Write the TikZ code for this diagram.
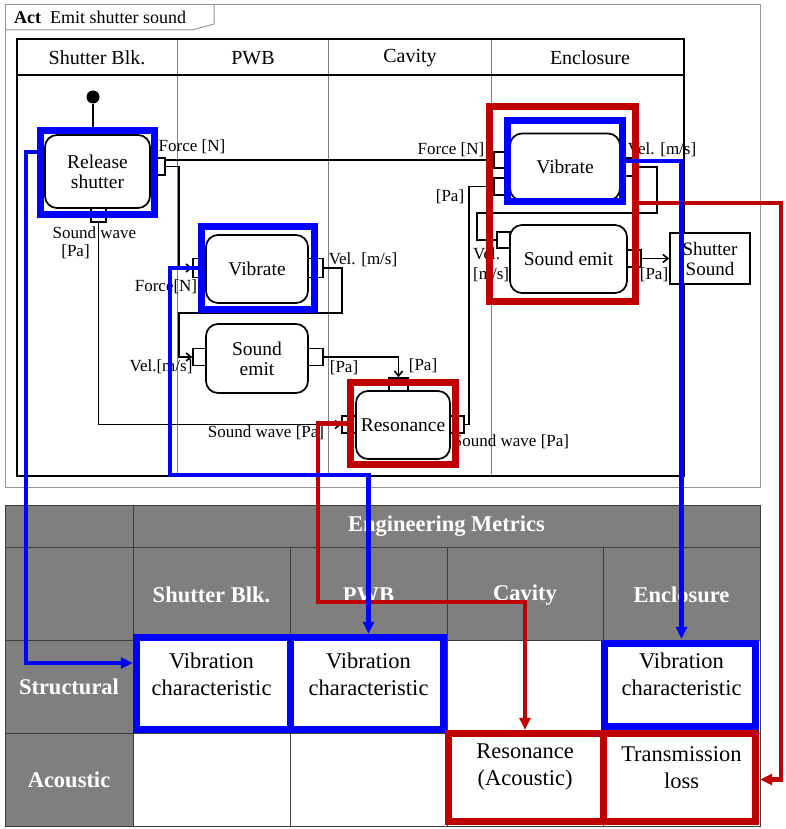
\documentclass[tikz,border=0pt]{standalone}
\usepackage{fontspec}
\setmainfont{Liberation Serif}
\usetikzlibrary{arrows.meta}
\definecolor{hblue}{RGB}{0,0,255}
\definecolor{hred}{RGB}{192,0,0}
\definecolor{tfill}{RGB}{127,127,127}
\definecolor{tline}{RGB}{60,60,60}
\definecolor{frgray}{RGB}{150,150,150}
\definecolor{lanegray}{RGB}{128,128,128}
\begin{document}
\begin{tikzpicture}[x=1pt,y=-1pt,
  actbox/.style={draw, rounded corners=12pt, line width=1.7pt, fill=white, align=center, inner sep=0pt, font=\fontsize{19.5}{20}\selectfont},
  pinbox/.style={draw, fill=white, line width=1.4pt, inner sep=0pt},
  lbl/.style={inner sep=0pt, font=\fontsize{17}{19}\selectfont},
  lane/.style={inner sep=0pt, font=\fontsize{20}{22}\selectfont},
  flow/.style={line width=1.6pt},
  flowa/.style={flow, -{Straight Barb[length=5pt,width=8pt]}},
  hlb/.style={draw=hblue, line width=7pt, inner sep=0pt},
  hlr/.style={draw=hred, line width=7pt, inner sep=0pt},
  bline/.style={draw=hblue, line width=4.5pt, -{Triangle[length=12pt,width=11pt]}},
  rline/.style={draw=hred, line width=4.5pt, -{Triangle[length=12pt,width=11pt]}},
  thead/.style={text=white, font=\bfseries\fontsize{22.5}{26}\selectfont, inner sep=0pt},
  tcell/.style={align=center, font=\fontsize{22.5}{27}\selectfont, inner sep=0pt},
  cellbox/.style={minimum width=157pt, minimum height=93pt, inner sep=0pt},
]
\useasboundingbox (0,0) rectangle (786,829);
\fill[white] (0,0) rectangle (786,829);

% ---------- Activity frame ----------
\draw[frgray, line width=1pt] (5,5) rectangle (760,487);
\draw[frgray, line width=1pt] (5,30) -- (192,30) -- (214,24) -- (214,5);
\node[anchor=west, inner sep=0pt, font=\fontsize{18}{20}\selectfont] (actlbl) at (14,17) {\textbf{Act}\enspace Emit shutter sound};

% swimlanes
\foreach \x in {177,328,491} \draw[lanegray, line width=1pt] (\x,39) -- (\x,476);
\draw[black, line width=1.2pt] (17,39) rectangle (684,476);
\draw[black, line width=1.2pt] (17,75) -- (684,75);
\node[lane] (l1) at (97,58) {Shutter Blk.};
\node[lane] (l2) at (253,58) {PWB};
\node[lane] (l3) at (410,58) {Cavity};
\node[lane] (l4) at (590,58) {Enclosure};

% ---------- actions ----------
\node[circle, fill=black, minimum size=13pt, inner sep=0pt] (init) at (93,97) {};
\node[actbox, minimum width=105pt, minimum height=73pt] (rs) at (97.5,171.5) {Release\\shutter};
\node[pinbox, minimum width=15pt, minimum height=17pt] (rsR) at (157.5,166.5) {};
\node[pinbox, minimum width=15pt, minimum height=14pt] (rsB) at (98.5,215) {};

\node[actbox, minimum width=102pt, minimum height=68pt] (pv) at (257,269) {Vibrate};
\node[pinbox, minimum width=13pt, minimum height=19pt] (pvL) at (199.5,268) {};
\node[pinbox, minimum width=15pt, minimum height=19pt] (pvR) at (315.5,268) {};
\node[actbox, minimum width=102pt, minimum height=69pt] (ps) at (257,358.5) {Sound\\emit};
\node[pinbox, minimum width=13pt, minimum height=17pt] (psL) at (199.5,357) {};
\node[pinbox, minimum width=15pt, minimum height=17pt] (psR) at (315.5,357) {};

\node[actbox, minimum width=94pt, minimum height=68pt] (res) at (403,425) {Resonance};
\node[pinbox, minimum width=19pt, minimum height=13pt] (resT) at (398.5,384.5) {};
\node[pinbox, minimum width=14pt, minimum height=17pt] (resL) at (349,424.5) {};
\node[pinbox, minimum width=14pt, minimum height=17pt] (resR) at (457,424.5) {};

\node[actbox, minimum width=110pt, minimum height=67pt] (ev) at (565,167) {Vibrate};
\node[pinbox, minimum width=16pt, minimum height=16pt] (evL1) at (502,160) {};
\node[pinbox, minimum width=16pt, minimum height=17pt] (evL2) at (502,186.5) {};
\node[pinbox, minimum width=13pt, minimum height=18pt] (evR) at (626.5,167) {};
\node[actbox, minimum width=117pt, minimum height=68pt] (es) at (568.5,259) {Sound emit};
\node[pinbox, minimum width=13pt, minimum height=16pt] (esL) at (503.5,240) {};
\node[pinbox, minimum width=14pt, minimum height=17pt] (esR) at (634,258.5) {};
\node[draw, line width=1.7pt, fill=white, align=center, inner sep=0pt, minimum width=80pt, minimum height=51pt, font=\fontsize{19}{20}\selectfont] (ss) at (710,258.5) {Shutter\\Sound};

% ---------- object flows ----------
\draw[flow] (init) -- (init |- rs.north);
\draw[flow] (evL1.west) -- (evL1.west -| rsR.east);
\draw[flowa] (rsR.east) -| (179,268) -- (pvL.west);
\draw[flowa] (pvR.east) -| (342,313) -| (179,357) -- (psL.west);
\draw[flowa] (psR.east) -| (resT.north);
\draw[flowa] (rsB.south) |- (resL.west);
\draw[flow] (resR.east) -- ++(4,0) |- (evL2.west);
\draw[flow] (evR.east) -| (657,213) -| (477,240) -- (esL.west);
\draw[flowa] (esR.east) -- (ss.west);

% labels
\node[lbl] (f1) at (192,147) {Force [N]};
\node[lbl] (sw1) at (94.5,233) {Sound wave};
\node[lbl] (sw1b) at (75.5,252) {[Pa]};
\node[lbl] (f2) at (166,287) {Force[N]};
\node[lbl] (v1) at (363,260) {Vel. [m/s]};
\node[lbl] (v2) at (161,367) {Vel.[m/s]};
\node[lbl] (pa1) at (344,368) {[Pa]};
\node[lbl] (pa2) at (423,366) {[Pa]};
\node[lbl] (sw2) at (266,433) {Sound wave [Pa]};
\node[lbl] (sw3) at (511,442) {Sound wave [Pa]};
\node[lbl] (f3) at (451,150) {Force [N]};
\node[lbl] (pa3) at (450,197) {[Pa]};
\node[lbl] (v3) at (662,150) {Vel. [m/s]};
\node[lbl, align=left, anchor=west, font=\fontsize{17}{20}\selectfont] (v4) at (473,265) {Vel.\\{[m/s]}};
\node[lbl] (pa4) at (654,275) {[Pa]};

% highlight boxes (diagram)
\node[hlb, minimum width=114pt, minimum height=84pt] (hRS) at (97.5,172.5) {};
\node[hlb, minimum width=113pt, minimum height=83pt] (hPV) at (258,268) {};
\node[hlr, minimum width=146pt, minimum height=195pt] (hE) at (562.5,204) {};
\node[hlb, minimum width=115pt, minimum height=81pt] (hEV) at (565,161) {};
\node[hlr, minimum width=105pt, minimum height=82pt] (hRes) at (403,423.5) {};

% ---------- table ----------
\fill[tfill] (5,505) rectangle (760,640);
\fill[tfill] (5,640) rectangle (133,826);
\draw[tline, line width=1pt] (5,547) -- (760,547) (5,640) -- (760,640) (5,733) -- (760,733);
\draw[tline, line width=1pt] (133,505) -- (133,826);
\foreach \x in {290,447,603} \draw[tline, line width=1pt] (\x,547) -- (\x,826);
\draw[tline, line width=1pt] (5,505) rectangle (760,826);

\node[thead] (em) at (446.5,526) {Engineering Metrics};
\node[thead] (h1) at (211.5,595) {Shutter Blk.};
\node[thead] (h2) at (368.5,595) {PWB};
\node[thead] (h3) at (525,595) {Cavity};
\node[thead] (h4) at (681.5,595) {Enclosure};
\node[thead] (rstr) at (69,687) {Structural};
\node[thead] (racu) at (69,780) {Acoustic};

\node[cellbox] (cSB) at (211.5,686.5) {};
\node[cellbox] (cPWB) at (368.5,686.5) {};
\node[cellbox] (cEnc) at (681.5,686.5) {};
\node[cellbox] (cRes) at (525,779.5) {};
\node[cellbox] (cTL) at (681.5,779.5) {};
\node[tcell] (tSB) at (211.5,674) {Vibration\\characteristic};
\node[tcell] (tPWB) at (368.5,674) {Vibration\\characteristic};
\node[tcell] (tEnc) at (681.5,674) {Vibration\\characteristic};
\node[tcell] (tRes) at (525,767.5) {Resonance\\(Acoustic)};
\node[tcell] (tTL) at (681.5,767.5) {Transmission\\loss};

% table highlights
\draw[draw=hblue, line width=7pt] (136,637.5) rectangle (443,729) (290,637.5) -- (290,729);
\draw[draw=hblue, line width=7pt] (604,643) rectangle (755.5,726);
\draw[draw=hred, line width=7pt] (448.5,733.5) rectangle (755.5,821.5) (603,733.5) -- (603,821.5);

% ---------- traces ----------
\coordinate (r1) at (318,602);
\coordinate (r2) at (781,779.5);
\draw[rline] (hRes.west) -| (r1) -| ([yshift=3pt]cRes.north);
\draw[rline] ([yshift=1pt]hE.east) -| (r2) -- (cTL.east);

\coordinate (b1) at (26,663);
\coordinate (b2) at (170,475);
\draw[bline] ([yshift=20.5pt]hRS.west) -| (b1) -- (cSB.west |- b1);
\draw[bline] (hPV.west) -| (b2) -| ([yshift=6pt]cPWB.north);
\draw[bline] (hEV.east) -| ([yshift=1pt]cEnc.north);
\end{tikzpicture}
\end{document}
